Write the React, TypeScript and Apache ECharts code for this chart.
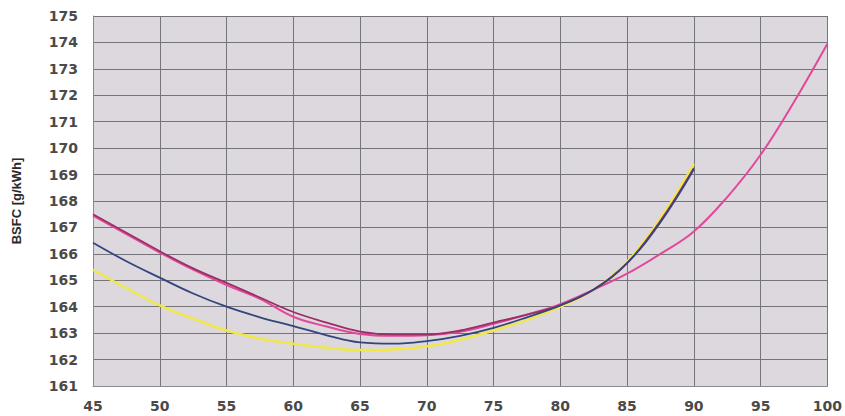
import React, { useEffect, useRef } from "react";
import * as echarts from "echarts";

const xValues = [45, 47.5, 50, 52.5, 55, 57.5, 60, 62.5, 65, 67.5, 70, 72.5, 75, 77.5, 80, 82.5, 85, 87.5, 90];
const xValuesPink = [...xValues, 92.5, 95, 97.5, 100];

const pinkValues = [167.45, 166.75, 166.05, 165.4, 164.82, 164.3, 163.62, 163.25, 162.97, 162.9, 162.92, 163.05, 163.35, 163.7, 164.1, 164.65, 165.25, 166.0, 166.85, 168.15, 169.75, 171.75, 173.95];
const purpleValues = [167.5, 166.8, 166.1, 165.45, 164.9, 164.35, 163.8, 163.4, 163.06, 162.95, 162.95, 163.1, 163.4, 163.7, 164.05, 164.65, 165.65, 167.25, 169.25];
const blueValues = [166.42, 165.72, 165.1, 164.5, 164.0, 163.6, 163.27, 162.92, 162.65, 162.6, 162.7, 162.9, 163.2, 163.6, 164.05, 164.65, 165.65, 167.2, 169.2];
const yellowValues = [165.4, 164.7, 164.05, 163.55, 163.1, 162.8, 162.6, 162.45, 162.36, 162.38, 162.5, 162.75, 163.1, 163.5, 164.0, 164.65, 165.7, 167.35, 169.4];

const pairs = (xs: number[], ys: number[]) => ys.map((y, i) => [xs[i], y]);

export default function App() {
  const ref = useRef<HTMLDivElement>(null);
  useEffect(() => {
    if (!ref.current) return;
    const chart = echarts.init(ref.current, null, { renderer: "svg" });
    const labelStyle = {
      color: "#4a4a4a",
      fontFamily: "DejaVu Sans, sans-serif",
      fontSize: 14,
      fontWeight: "bold" as const,
    };
    const lineSeries = (name: string, xs: number[], ys: number[], color: string, width: number) => ({
      name,
      type: "line",
      data: pairs(xs, ys),
      smooth: 0.4,
      showSymbol: false,
      symbol: "none",
      lineStyle: { color, width },
      z: 3,
    });
    chart.setOption({
      animation: false,
      backgroundColor: "#ffffff",
      grid: {
        left: 93,
        right: 16,
        top: 16,
        bottom: 30,
        show: true,
        backgroundColor: "#dcd8de",
        borderWidth: 0,
      },
      xAxis: {
        type: "value",
        min: 45,
        max: 100,
        interval: 5,
        axisLine: { show: true, lineStyle: { color: "#8a8a90", width: 1 } },
        axisTick: { show: false },
        axisLabel: { ...labelStyle, margin: 13 },
        splitLine: { show: true, lineStyle: { color: "#74747a", width: 1 } },
      },
      yAxis: {
        type: "value",
        min: 161,
        max: 175,
        interval: 1,
        name: "BSFC [g/kWh]",
        nameLocation: "middle",
        nameGap: 70,
        nameRotate: 90,
        nameTextStyle: {
          color: "#2a2a2a",
          fontFamily: "Liberation Sans, Arial, sans-serif",
          fontSize: 13,
          fontWeight: "bold",
        },
        axisLine: { show: true, lineStyle: { color: "#8a8a90", width: 1 } },
        axisTick: { show: false },
        axisLabel: { ...labelStyle, margin: 15 },
        splitLine: { show: true, lineStyle: { color: "#74747a", width: 1 } },
      },
      series: [
        lineSeries("yellow", xValues, yellowValues, "#f0e84a", 2.5),
        lineSeries("pink", xValuesPink, pinkValues, "#e2489a", 2),
        lineSeries("purple", xValues, purpleValues, "#9a2f66", 1.8),
        lineSeries("blue", xValues, blueValues, "#34457e", 1.8),
      ],
    });
    return () => chart.dispose();
  }, []);
  return (
    <div
      ref={ref}
      style={{ position: "fixed", left: 0, top: 0, width: 845, height: 416 }}
    />
  );
}
